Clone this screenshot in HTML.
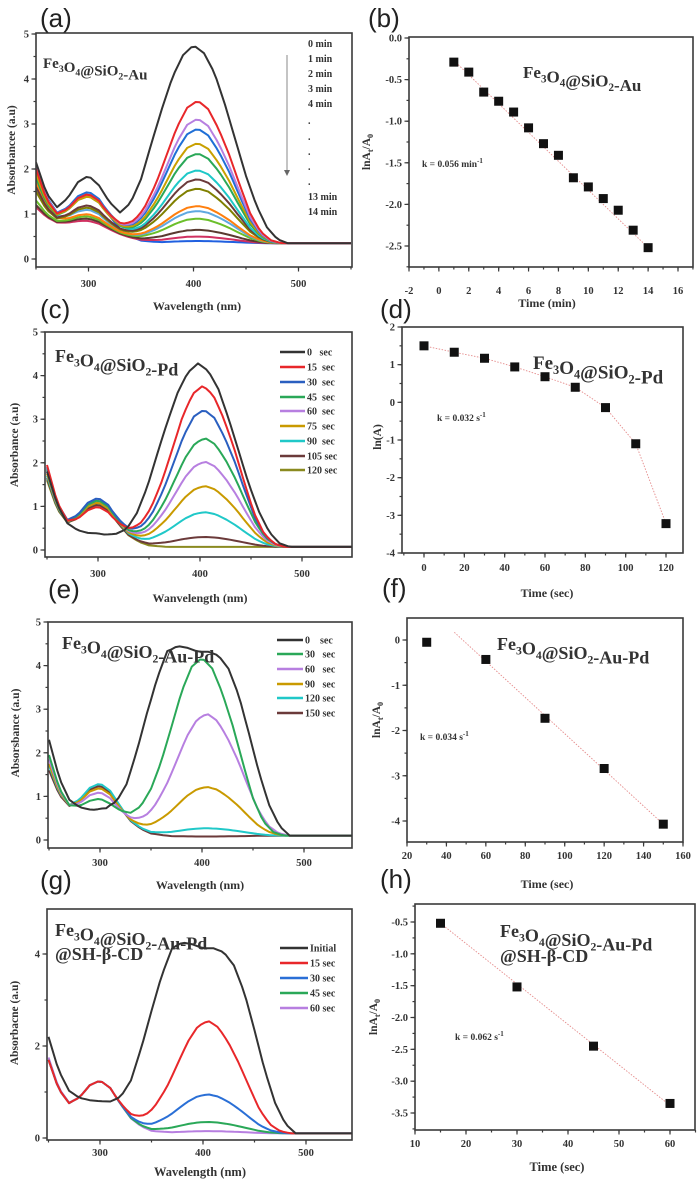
<!DOCTYPE html>
<html><head><meta charset="utf-8"><style>
html,body{margin:0;padding:0;background:#fff;}
svg{display:block;}
text{font-family:"Liberation Serif",serif;font-weight:bold;fill:#333;}
.pl{font-family:"Liberation Sans",sans-serif;font-weight:normal;font-size:26px;fill:#222;}
</style></head><body>
<svg id="fig" width="700" height="1186" viewBox="0 0 700 1186" xmlns="http://www.w3.org/2000/svg">
<rect width="700" height="1186" fill="#fff"/>
<defs>
<clipPath id="clipA"><rect x="36" y="33" width="316" height="234"/></clipPath>
<clipPath id="clipC"><rect x="45" y="332" width="307" height="225"/></clipPath>
<clipPath id="clipE"><rect x="48" y="622" width="304" height="226"/></clipPath>
<clipPath id="clipG"><rect x="47" y="909" width="305" height="231"/></clipPath>
</defs>
</svg>
<script>
// ---- shared wavelength grid & spectral shape profiles ----
const wl=[250,260,270,280,290,300,310,320,330,340,350,360,370,380,390,400,410,420,430,440,450,460,470,480,490,500,510,520,530,540,550];
const edgeShape=[1,0.45,0.15,0.04,0,0,0,0,0,0,0,0,0,0,0,0,0,0,0,0,0,0,0,0,0,0,0,0,0,0,0];
const bgShape=[1,1,0.95,0.9,0.85,0.8,0.7,0.55,0.4,0.25,0.12,0.05,0,0,0,0,0,0,0,0,0,0,0,0,0,0,0,0,0,0,0];
const bandShape=[0,0.02,0.12,0.45,0.85,1,0.85,0.5,0.2,0.06,0,0,0,0,0,0,0,0,0,0,0,0,0,0,0,0,0,0,0,0,0];
const peakShape=[0,0,0,0,0,0,0,0,0.02,0.06,0.13,0.25,0.41,0.61,0.81,0.95,1,0.94,0.8,0.62,0.41,0.21,0.08,0.02,0,0,0,0,0,0,0];
const broadShape=[0,0,0,0,0,0,0.02,0.08,0.2,0.4,0.62,0.82,0.97,1,0.99,0.97,0.97,0.95,0.88,0.74,0.54,0.33,0.16,0.05,0,0,0,0,0,0,0];
const wideShape=[0,0,0,0,0,0,0,0.02,0.06,0.16,0.31,0.5,0.68,0.84,0.95,1,0.96,0.86,0.7,0.52,0.34,0.19,0.08,0.02,0,0,0,0,0,0,0];

// ---- panel (a) ----
const aNames=["0 min","1 min","2 min","3 min","4 min","5 min","6 min","7 min","8 min","9 min","10 min","11 min","12 min","13 min","14 min"];
const aColors=["#333333","#e8272a","#b77fe0","#1f6fd6","#c9a000","#2aa858","#1ec8c8","#6b3a3a","#808000","#ff7f0e","#5fa8e0","#6bbf2a","#5a3a30","#d03060","#2060e0"];
const aPeakTop=[4.75,3.52,3.12,2.9,2.58,2.35,1.98,1.78,1.57,1.18,1.07,0.9,0.65,0.5,0.4];
const aStart=[2.15,2.0,2.05,2.1,1.9,1.8,2.0,1.6,1.5,1.7,1.9,1.3,1.2,1.15,2.1];
const aAt300=[1.85,1.45,1.45,1.5,1.4,1.4,1.45,1.2,1.15,1.0,1.1,0.95,0.9,0.85,1.45];
const aBg=[0.5,0.4,0.4,0.4,0.4,0.4,0.4,0.4,0.4,0.4,0.4,0.4,0.4,0.4,0.4];
const aShift=[0,-6,-6,-6,-6,-6,-6,-6,-6,-6,-6,-6,-6,-6,-6];
const aShapeId=[2,0,0,0,0,0,0,0,0,0,0,0,0,0,0];
const aTail=0.35;
// ---- panel (c) ----
const cNames=["0   sec","15  sec","30  sec","45  sec","60  sec","75  sec","90  sec","105 sec","120 sec"];
const cColors=["#333333","#e8272a","#2a5fc0","#2aa858","#b77fe0","#c99a00","#20c8c8","#6b3a3a","#8a8a20"];
const cPeakTop=[4.28,3.77,3.22,2.57,2.03,1.47,0.87,0.3,0.07];
const cStart=[1.8,1.95,1.9,1.85,1.8,1.75,1.7,1.65,1.6];
const cAt300=[0.38,1.0,1.2,1.15,1.15,1.1,1.1,1.05,1.05];
const cBg=[0.35,0.3,0.3,0.3,0.3,0.3,0.3,0.3,0.3];
const cShift=[-2,-7,-6,-5,-5,-5,-5,-5,-5];
const cShapeId=[2,0,0,0,0,0,0,0,0];
const cTail=0.07;
// ---- panel (e) ----
const eNames=["0    sec","30   sec","60   sec","90   sec","120 sec","150 sec"];
const eColors=["#333333","#2aa858","#b77fe0","#c99a00","#20c8c8","#6b3a3a"];
const ePeakTop=[4.45,4.18,2.9,1.22,0.27,0.08];
const eStart=[2.3,1.95,1.85,1.75,1.7,1.6];
const eAt300=[0.72,0.95,1.1,1.2,1.3,1.25];
const eBg=[0.6,0.45,0.45,0.45,0.45,0.45];
const eShift=[-4,-10,-5,-5,-5,-5];
const eShapeId=[1,0,0,0,0,0];
const eTail=0.1;
// ---- panel (g) ----
const gNames=["Initial","15 sec","30 sec","45 sec","60 sec"];
const gColors=["#333333","#e8272a","#2a6fd6","#2aa858","#b77fe0"];
const gPeakTop=[4.25,2.55,0.95,0.35,0.15];
const gStart=[2.2,1.7,1.7,1.7,1.75];
const gAt300=[0.8,1.25,1.25,1.25,1.25];
const gBg=[0.75,0.4,0.4,0.4,0.4];
const gShift=[0,-5,-5,-5,-5];
const gShapeId=[1,0,0,0,0];
const gTail=0.1;
// ---- kinetics panels ----
const bX=[1,2,3,4,5,6,7,8,9,10,11,12,13,14];
const bY=[-0.29,-0.41,-0.65,-0.76,-0.89,-1.08,-1.27,-1.41,-1.68,-1.79,-1.93,-2.07,-2.31,-2.52];
const bFitX=[1,14];
const bFitY=[-0.27,-2.52];
const dX=[0,15,30,45,60,75,90,105,120];
const dY=[1.5,1.33,1.17,0.94,0.68,0.4,-0.14,-1.1,-3.22];
const fX=[30,60,90,120,150];
const fY=[-0.05,-0.43,-1.73,-2.84,-4.07];
const fFitX=[44,150];
const fFitY=[0.17,-4.07];
const hX=[15,30,45,60];
const hY=[-0.52,-1.52,-2.45,-3.35];
const hFitX=[15,60];
const hFitY=[-0.52,-3.38];
// tick values
const specXTicks=[300,400,500];
const aYTicks=[0,1,2,3,4,5];
const gYTicks=[0,2,4];
const bXTicks=[-2,0,2,4,6,8,10,12,14,16];
const bYTicks=[0,-0.5,-1,-1.5,-2,-2.5];
const dXTicks=[0,20,40,60,80,100,120];
const dYTicks=[2,1,0,-1,-2,-3,-4];
const fXTicks=[20,40,60,80,100,120,140,160];
const fYTicks=[0,-1,-2,-3,-4];
const hXTicks=[10,20,30,40,50,60];
const hYTicks=[-0.5,-1,-1.5,-2,-2.5,-3,-3.5];

const NS="http://www.w3.org/2000/svg";
const svg=document.getElementById('fig');
function mk(tag,attrs,parent){const e=document.createElementNS(NS,tag);for(const k in attrs)e.setAttribute(k,attrs[k]);(parent||svg).appendChild(e);return e;}
function lin(d0,d1,r0,r1){return v=>r0+(v-d0)*(r1-r0)/(d1-d0);}
function look(arr,w){if(w<=wl[0])return arr[0];if(w>=wl[wl.length-1])return arr[arr.length-1];
  const i=Math.floor((w-250)/10);const t=(w-wl[i])/10;return arr[i]*(1-t)+arr[i+1]*t;}
const shapes=[peakShape,broadShape,wideShape];

function spectra(grp,sx,sy,clip,names,colors,peakTop,start,at300,bg,shift,shapeId,tail){
  const g=mk('g',{'clip-path':'url(#'+clip+')'},grp);
  
  
  for(let i=names.length-1;i>=0;i--){
    const shape=shapes[shapeId[i]];
    const P=peakTop[i]-tail;
    const E=start[i]-tail-bg[i];
    const B=at300[i]-tail-bg[i]*look(bgShape,300)-P*look(shape,300-shift[i]);
    let d='';
    for(let w=250;w<=550;w+=4){
      const v=tail+bg[i]*look(bgShape,w)+E*look(edgeShape,w)+B*look(bandShape,w)+P*look(shape,w-shift[i]);
      d+=(w===250?'M':'L')+sx(w).toFixed(1)+','+sy(v).toFixed(1);
    }
    const p=mk('path',{d:d,fill:'none',stroke:colors[i],'stroke-width':2,'stroke-linejoin':'round'},g);
    
    
  }
}

function axes(grp,box,sx,sy,xt,yt,xMinor,yMinor,xLabY,fmt){
  const fr=mk('rect',{x:box.l,y:box.t,width:box.r-box.l,height:box.b-box.t,fill:'none',stroke:'#3a3a3a','stroke-width':1.6},grp);
  
  
  const tg=mk('g',{stroke:'#3a3a3a','stroke-width':1.2},grp);
  
  
  for(const v of xMinor){const x=sx(v);if(x<box.l-0.5||x>box.r+0.5)continue;mk('line',{x1:x,x2:x,y1:box.b,y2:box.b+2.5},tg);}
  for(const v of yMinor){const y=sy(v);if(y<box.t-0.5||y>box.b+0.5)continue;mk('line',{x1:box.l,x2:box.l-2.5,y1:y,y2:y},tg);}
  for(const v of xt){const x=sx(v);mk('line',{x1:x,x2:x,y1:box.b,y2:box.b+4.5},tg);
    const t=mk('text',{x:x,y:xLabY,'text-anchor':'middle','font-size':10.5},grp);t.textContent=v;
    
    }
  for(const v of yt){const y=sy(v);mk('line',{x1:box.l,x2:box.l-4.5,y1:y,y2:y},tg);
    const t=mk('text',{x:box.l-7,y:y+3.5,'text-anchor':'end','font-size':10.5},grp);t.textContent=fmt?fmt(v):v;
    
    }
}
function range(a,b,s){const r=[];for(let v=a;v<=b+1e-9;v+=s)r.push(+v.toFixed(3));return r;}

function chem(grp,x,y,size,parts,name){
  const t=mk('text',{x:x,y:y,'font-size':size},grp);
  for(const [s,sub] of parts){
    const ts=mk('tspan',sub?{'font-size':size*0.65,dy:size*0.25}:{},t);
    ts.textContent=s;
    if(sub){const nxt=mk('tspan',{dy:-size*0.25},t);nxt.textContent='';}
  }
  
  
  return t;
}
const FeAu=[['Fe',0],['3',1],['O',0],['4',1],['@SiO',0],['2',1],['-Au',0]];
const FePd=[['Fe',0],['3',1],['O',0],['4',1],['@SiO',0],['2',1],['-Pd',0]];
const FeAuPd=[['Fe',0],['3',1],['O',0],['4',1],['@SiO',0],['2',1],['-Au-Pd',0]];

function txt(grp,x,y,size,s,name,extra){const t=mk('text',Object.assign({x:x,y:y,'font-size':size},extra||{}),grp);t.textContent=s;
  
  return t;}
function ytitle(grp,x,y,s,sub){const t=mk('text',{x:0,y:0,'font-size':11.5,'text-anchor':'middle',transform:'translate('+x+','+y+') rotate(-90)'},grp);
  if(sub){mk('tspan',{},t).textContent='lnA';mk('tspan',{'font-size':8,dy:3},t).textContent='t';mk('tspan',{dy:-3},t).textContent='/A';mk('tspan',{'font-size':8,dy:3},t).textContent='0';}
  else t.textContent=s;
  
  }
function legend(grp,x0,x1,ys,names,colors){
  const lg=mk('g',{},grp);
  
  
  names.forEach((n,i)=>{const e=mk('g',{},lg);
    
    
    mk('line',{x1:x0,x2:x1,y1:ys[i],y2:ys[i],stroke:colors[i],'stroke-width':2.5},e);
    const t=mk('text',{x:x1+2,y:ys[i]+3.5,'font-size':10},e);t.textContent=n;t.style.whiteSpace='pre';});
}
function scatter(grp,sx,sy,X,Y,fitX,fitY,connect){
  if(connect){let d='';X.forEach((x,i)=>{d+=(i?'L':'M')+sx(x)+','+sy(Y[i]);});
    const l=mk('path',{d:d,fill:'none',stroke:'#e58c8c','stroke-width':0.9,'stroke-dasharray':'1.5,1.5'},grp);
    
    }
  if(fitX){const l=mk('line',{x1:sx(fitX[0]),y1:sy(fitY[0]),x2:sx(fitX[1]),y2:sy(fitY[1]),stroke:'#e58c8c','stroke-width':0.9,'stroke-dasharray':'1.5,1.5'},grp);
    
    }
  X.forEach((x,i)=>{const r=mk('rect',{x:sx(x)-4.5,y:sy(Y[i])-4.5,width:9,height:9,fill:'#111'},grp);
    
    });
}
function panel(name){const g=mk('g',{});return g;}

// ===== (a) =====
{const G=panel('panel-a');const box={l:36,r:352,t:33,b:267};const sx=lin(300,400,88.5,193.5),sy=lin(0,5,259,34);
 spectra(G,sx,sy,'clipA',aNames,aColors,aPeakTop,aStart,aAt300,aBg,aShift,aShapeId,aTail);
 axes(G,box,sx,sy,specXTicks,aYTicks,range(250,550,50),range(0,5,0.5),287);
 chem(G,43,68,15,FeAu,'sample-label');
 [['0 min',47],['1 min',62],['2 min',77],['3 min',92],['4 min',107],['.',124],['.',140],['.',155],['.',170],['.',185],['13 min',200],['14 min',215]].forEach(([s,y])=>txt(G,308,y,10,s,'legend-text'));
 const ar=mk('line',{x1:287,y1:55,x2:287,y2:172,stroke:'#888','stroke-width':1},G);
 mk('path',{d:'M284,170 L287,176 L290,170 Z',fill:'#666'},G);
 txt(G,40,27,26,'(a)','panel-label',{class:'pl'});
 ytitle(G,15,150,'Absorbancee (a.u)');
 txt(G,197,310,12,'Wavelength (nm)','x-axis-title',{'text-anchor':'middle'});}
// ===== (b) =====
{const G=panel('panel-b');const box={l:409,r:693,t:37,b:267};const sx=lin(-2,16,409,678),sy=lin(0,-2.5,38,246);
 axes(G,box,sx,sy,bXTicks,bYTicks,range(-2,17,1),range(-2.75,0,0.25),294,v=>v.toFixed(1));
 scatter(G,sx,sy,bX,bY,bFitX,bFitY,false);
 chem(G,523,78,17,FeAu,'sample-label');
 const k=txt(G,422,167,9.5,'k = 0.056 min','rate-constant');mk('tspan',{'font-size':7,dy:-4},k).textContent='-1';
 txt(G,368,27,26,'(b)','panel-label',{class:'pl'});
 ytitle(G,370,152,'',true);
 txt(G,547,307,12,'Time (min)','x-axis-title',{'text-anchor':'middle'});}
// ===== (c) =====
{const G=panel('panel-c');const box={l:45,r:352,t:332,b:557};const sx=lin(300,400,98,200),sy=lin(0,5,550,332);
 spectra(G,sx,sy,'clipC',cNames,cColors,cPeakTop,cStart,cAt300,cBg,cShift,cShapeId,cTail);
 axes(G,box,sx,sy,specXTicks,aYTicks,range(250,550,50),range(0,5,0.5),577);
 chem(G,55,362,18,FePd,'sample-label');
 legend(G,280,305,[352,367,382,397,411,426,441,456,470],cNames,cColors);
 txt(G,40,318,26,'(c)','panel-label',{class:'pl'});
 ytitle(G,18,445,'Absorbance (a.u)');
 txt(G,200,602,12,'Wanvelength (nm)','x-axis-title',{'text-anchor':'middle'});}
// ===== (d) =====
{const G=panel('panel-d');const box={l:402,r:683,t:327,b:553};const sx=lin(0,120,424,666),sy=lin(2,-4,327,553);
 axes(G,box,sx,sy,dXTicks,dYTicks,range(-10,130,10),range(-4,2,0.5),571);
 scatter(G,sx,sy,dX,dY,null,null,true);
 chem(G,533,369,19,FePd,'sample-label');
 const k=txt(G,437,421,9.5,'k = 0.032 s','rate-constant');mk('tspan',{'font-size':7,dy:-4},k).textContent='-1';
 txt(G,380,318,26,'(d)','panel-label',{class:'pl'});
 ytitle(G,381,437,'ln(A)');
 txt(G,547,597,12,'Time (sec)','x-axis-title',{'text-anchor':'middle'});}
// ===== (e) =====
{const G=panel('panel-e');const box={l:48,r:352,t:622,b:848};const sx=lin(300,400,100,202),sy=lin(0,5,840,622);
 spectra(G,sx,sy,'clipE',eNames,eColors,ePeakTop,eStart,eAt300,eBg,eShift,eShapeId,eTail);
 axes(G,box,sx,sy,specXTicks,aYTicks,range(250,550,50),range(0,5,0.5),866);
 chem(G,62,649,18,FeAuPd,'sample-label');
 legend(G,277,303,[640,654,669,684,698,713],eNames,eColors);
 txt(G,48,598,26,'(e)','panel-label',{class:'pl'});
 ytitle(G,19,733,'Absorsbance (a.u)');
 txt(G,200,889,12,'Wavelength (nm)','x-axis-title',{'text-anchor':'middle'});}
// ===== (f) =====
{const G=panel('panel-f');const box={l:407,r:683,t:618,b:842};const sx=lin(20,160,407,683),sy=lin(0,-4,640,821);
 axes(G,box,sx,sy,fXTicks,fYTicks,range(20,160,10),range(-4.5,0.5,0.5),859);
 scatter(G,sx,sy,fX,fY,fFitX,fFitY,false);
 chem(G,497,650,18,FeAuPd,'sample-label');
 const k=txt(G,420,740,9.5,'k = 0.034 s','rate-constant');mk('tspan',{'font-size':7,dy:-4},k).textContent='-1';
 txt(G,382,597,26,'(f)','panel-label',{class:'pl'});
 ytitle(G,380,720,'',true);
 txt(G,547,888,12,'Time (sec)','x-axis-title',{'text-anchor':'middle'});}
// ===== (g) =====
{const G=panel('panel-g');const box={l:47,r:352,t:909,b:1140};const sx=lin(300,400,100,203),sy=lin(0,4,1138,954);
 spectra(G,sx,sy,'clipG',gNames,gColors,gPeakTop,gStart,gAt300,gBg,gShift,gShapeId,gTail);
 axes(G,box,sx,sy,specXTicks,gYTicks,range(250,550,50),range(0,5,1),1156);
 chem(G,55,936,18,FeAuPd,'sample-label');
 txt(G,55,960,18,'@SH-β-CD','sample-label-line2',{style:'font-family:"Liberation Serif","Noto Serif CJK SC",serif'});
 legend(G,280,308,[948,963,978,993,1008],gNames,gColors);
 txt(G,40,889,26,'(g)','panel-label',{class:'pl'});
 ytitle(G,18,1023,'Absorbacne (a.u)');
 txt(G,200,1176,12.5,'Wavelength (nm)','x-axis-title',{'text-anchor':'middle'});}
// ===== (h) =====
{const G=panel('panel-h');const box={l:415,r:695,t:904,b:1130};const sx=lin(10,60,415,670),sy=lin(-0.5,-3.5,922,1113);
 axes(G,box,sx,sy,hXTicks,hYTicks,range(10,65,5),range(-3.75,-0.25,0.25),1147,v=>v.toFixed(1));
 scatter(G,sx,sy,hX,hY,hFitX,hFitY,false);
 chem(G,500,937,18,FeAuPd,'sample-label');
 txt(G,500,962,18,'@SH-β-CD','sample-label-line2');
 const k=txt(G,455,1040,9.5,'k = 0.062 s','rate-constant');mk('tspan',{'font-size':7,dy:-4},k).textContent='-1';
 txt(G,380,888,26,'(h)','panel-label',{class:'pl'});
 ytitle(G,377,1017,'',true);
 txt(G,557,1171,12.5,'Time (sec)','x-axis-title',{'text-anchor':'middle'});}
</script>
</body></html>
